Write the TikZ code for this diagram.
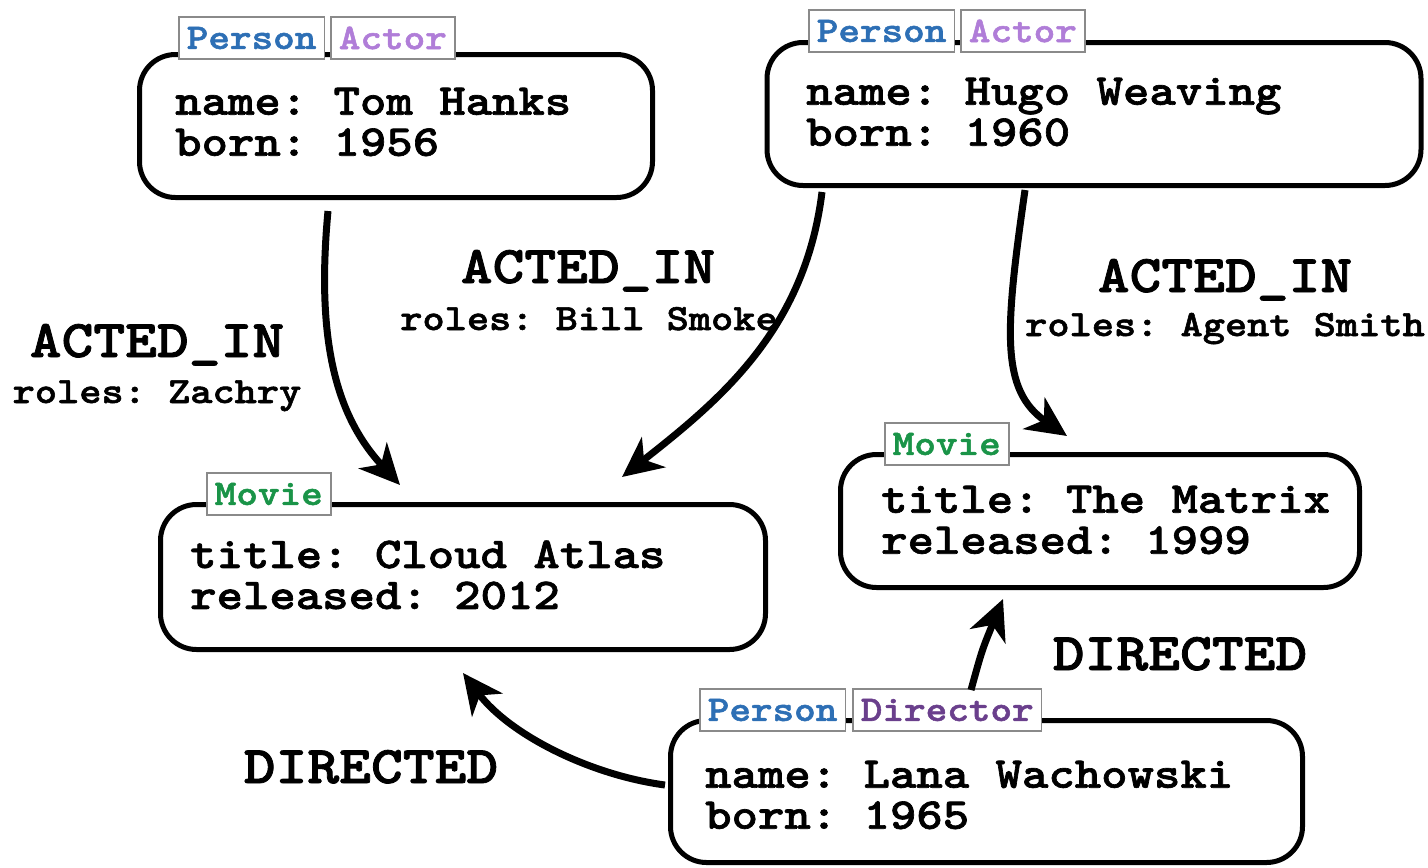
\documentclass[tikz,border=0pt]{standalone}
\usepackage{fontspec}
\newfontfamily\courb{lmmonolt10-bold.otf}[FakeStretch=1.143,FakeBold=1.5]
\usetikzlibrary{arrows.meta,calc}
\definecolor{personc}{HTML}{2D6FB5}
\definecolor{actorc}{HTML}{B07DD8}
\definecolor{directorc}{HTML}{6A3F8C}
\definecolor{moviec}{HTML}{1A9448}
\definecolor{tagborder}{HTML}{8A8A8A}
\frenchspacing
\begin{document}
\begin{tikzpicture}[x=1pt,y=-1pt,
  box/.style={draw=black, line width=5pt, rounded corners=36pt, fill=white, inner sep=0pt},
  txt/.style={font=\fontsize{44}{41}\selectfont\courb\frenchspacing, align=left, inner sep=0pt, anchor=west},
  tag/.style={draw=tagborder, line width=1.5pt, fill=white, font=\fontsize{36}{36}\selectfont\courb\frenchspacing, inner xsep=8pt, inner ysep=0pt, minimum height=42pt, anchor=west},
  rel/.style={font=\fontsize{53}{53}\selectfont\courb\frenchspacing, inner sep=0pt, anchor=base},
  prop/.style={font=\fontsize{37}{37}\selectfont\courb\frenchspacing, inner sep=0pt, anchor=base},
  edge/.style={line width=7pt, -{Stealth[length=40pt,width=38pt,inset=12pt]}}
]
\fill[white] (0,0) rectangle (1428,868);
\useasboundingbox (0,0) rectangle (1428,868);

% boxes
\node[box, minimum width=513pt, minimum height=143pt] (tom) at (396,126) {};
\node[box, minimum width=654pt, minimum height=143pt] (hugo) at (1094,114) {};
\node[box, minimum width=605pt, minimum height=145pt] (cloud) at (463,577) {};
\node[box, minimum width=519pt, minimum height=133pt] (matrix) at (1100,521) {};
\node[box, minimum width=632pt, minimum height=142pt] (lana) at (986.5,791.5) {};

% tags
\node[tag, text=personc] (tomp) at (178,38) {Person};
\node[tag, text=actorc] (toma) at ([xshift=5pt]tomp.east) {Actor};
\node[tag, text=personc] (hugop) at (808,31) {Person};
\node[tag, text=actorc] (hugoa) at ([xshift=5pt]hugop.east) {Actor};
\node[tag, text=moviec] (cloudm) at (206,494) {Movie};
\node[tag, text=moviec] (matrixm) at (884,444) {Movie};
\node[tag, text=personc] (lanap) at (699,710) {Person};
\node[tag, text=directorc] (lanad) at ([xshift=6pt]lanap.east) {Director};

% texts
\node[txt] (tomt) at (175,122) {name: Tom Hanks\\born: 1956};
\node[txt] (hugot) at (806,112) {name: Hugo Weaving\\born: 1960};
\node[txt] (cloudt) at (190,575) {title: Cloud Atlas\\released: 2012};
\node[txt] (matrixt) at (881,520) {title: The Matrix\\released: 1999};
\node[txt] (lanat) at (705,795) {name: Lana Wachowski\\born: 1965};

% edge labels
\node[rel] (l1) at (157,357) {ACTED\_IN};
\node[prop] (l1p) at (157,403) {roles: Zachry};
\node[rel] (l2) at (588,283) {ACTED\_IN};
\node[prop] (l2p) at (589,330) {roles: Bill Smoke};
\node[rel] (l3) at (1225,292) {ACTED\_IN};
\node[prop] (l3p) at (1225,336) {roles: Agent Smith};
\node[rel] (l4) at (1180,670) {DIRECTED};
\node[rel] (l5) at (371,783) {DIRECTED};

% edges
\draw[edge] ([shift={(-68,11)}]tom.south) .. controls (315,350) and (340,420) .. ([shift={(-63,-17)}]cloud.north);
\draw[edge] ([shift={(-272,4)}]hugo.south) .. controls (805,330) and (720,400) .. ([shift={(159,-25)}]cloud.north);
\draw[edge] ([shift={(-69,2)}]hugo.south) .. controls (1005,330) and (1000,390) .. ([shift={(-33,-16)}]matrix.north);
\draw[edge] ([shift={(-15.5,-28)}]lana.north) .. controls (982,650) .. ([shift={(-97,9)}]matrix.south);
\draw[edge] ([shift={(-3,-6.5)}]lana.west) .. controls (590,775) and (510,735) .. ([shift={(0,21)}]cloud.south);
\end{tikzpicture}
\end{document}
